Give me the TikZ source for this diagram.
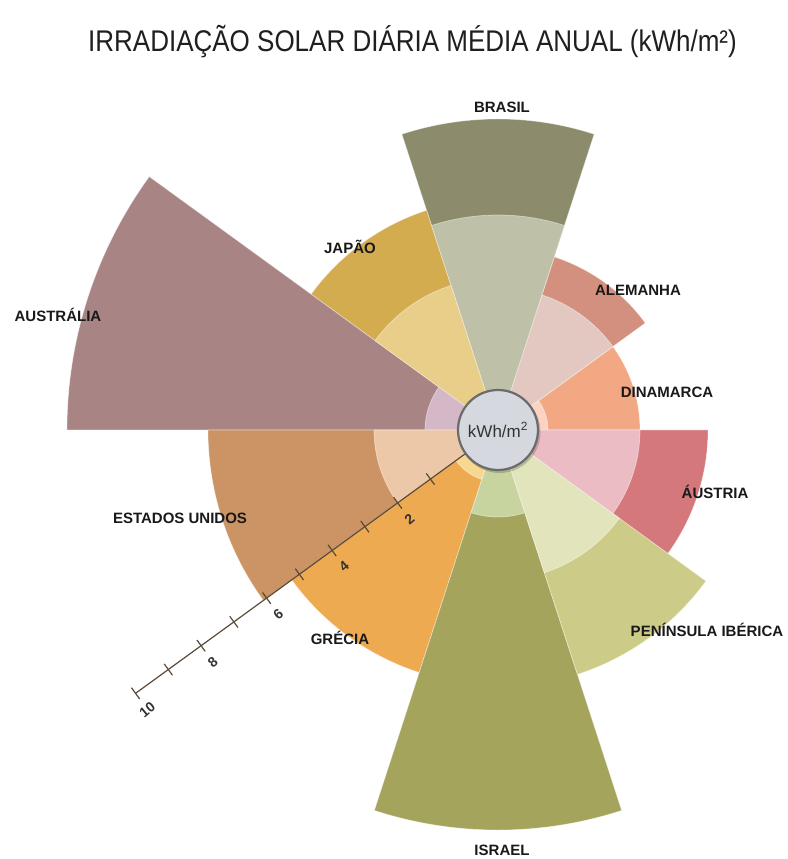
\documentclass[tikz,border=0pt]{standalone}
\usepackage{fontspec}
\setmainfont{Liberation Sans}
\usetikzlibrary{calc}
\definecolor{dinO}{HTML}{F2A882}
\definecolor{dinI}{HTML}{FCD2C2}
\definecolor{aleO}{HTML}{D4907E}
\definecolor{aleI}{HTML}{E2C8C0}
\definecolor{braO}{HTML}{8C8C6C}
\definecolor{braI}{HTML}{BEC0A8}
\definecolor{japO}{HTML}{D4AC50}
\definecolor{japI}{HTML}{E8CE88}
\definecolor{ausO}{HTML}{A88484}
\definecolor{ausI}{HTML}{D4B8C8}
\definecolor{euaO}{HTML}{CC9464}
\definecolor{euaI}{HTML}{EDC8A8}
\definecolor{greO}{HTML}{EEAA50}
\definecolor{greI}{HTML}{F8D890}
\definecolor{isrO}{HTML}{A4A45C}
\definecolor{isrI}{HTML}{C8D4A0}
\definecolor{penO}{HTML}{CCCC88}
\definecolor{penI}{HTML}{E2E4BC}
\definecolor{autO}{HTML}{D4787C}
\definecolor{autI}{HTML}{ECBCC4}
\definecolor{hubfill}{HTML}{D5D8DF}
\definecolor{hubline}{HTML}{6B6B6B}
\definecolor{axiscol}{HTML}{5A4A3A}
\newcommand\rosesector[4]{\fill[#4,draw=white,draw opacity=0.45,line width=0.7pt] (0,0) -- (#1:#3pt) arc[start angle=#1,end angle=#2,radius=#3pt] -- cycle;}
\begin{document}
\begin{tikzpicture}[x=1pt,y=1pt,
  lbl/.style={font=\fontsize{15}{15}\selectfont\bfseries, text=black!90, inner sep=0pt},
  ticklbl/.style={font=\fontsize{14}{14}\selectfont\bfseries, text=black!80, inner sep=0pt, rotate=40},
  axisline/.style={draw=axiscol, line width=1.2pt}]
\useasboundingbox (-498,-429) rectangle (289,430);
% outer rings
\rosesector{0}{36}{142}{dinO}
\rosesector{36}{72}{182}{aleO}
\rosesector{72}{108}{311}{braO}
\rosesector{108}{144}{231}{japO}
\rosesector{144}{180}{431}{ausO}
\rosesector{180}{216}{290}{euaO}
\rosesector{216}{252}{255}{greO}
\rosesector{252}{288}{400}{isrO}
\rosesector{288}{324}{257}{penO}
\rosesector{324}{360}{210}{autO}
% inner rings
\rosesector{0}{36}{50}{dinI}
\rosesector{36}{72}{142}{aleI}
\rosesector{72}{108}{215}{braI}
\rosesector{108}{144}{152}{japI}
\rosesector{144}{180}{73}{ausI}
\rosesector{180}{216}{124}{euaI}
\rosesector{216}{252}{52}{greI}
\rosesector{252}{288}{87}{isrI}
\rosesector{288}{324}{150}{penI}
\rosesector{324}{360}{142}{autI}
% axis
\coordinate (axA) at (216:40pt);
\coordinate (axB) at (216:448pt);
\draw[axisline] (axA) -- (axB);
\foreach \v in {1,...,10}{
  \pgfmathsetmacro\rr{43+40.5*\v}
  \draw[axisline, shift={(216:\rr pt)}] (306:7pt) -- (126:7pt);
}
\foreach \v in {2,4,...,10}{
  \pgfmathsetmacro\rr{43+40.5*\v}
  \node[ticklbl] (t\v) at ($(216:\rr pt)+(306:20pt)$) {\v};
}
% hub
\fill[black, opacity=0.18] (1.5,-2) circle[radius=41pt];
\node[circle, minimum size=80pt, fill=hubfill, draw=hubline, line width=2.2pt, inner sep=0pt,
      font=\fontsize{17}{17}\selectfont, text=black!80] (hub) at (0,0) {kWh/m\textsuperscript{2}};
% labels
\node[lbl] (lbra) at (4,323) {BRASIL};
\node[lbl] (ljap) at (-148,183) {JAPÃO};
\node[lbl] (lale) at (140,140) {ALEMANHA};
\node[lbl] (ldin) at (169,38) {DINAMARCA};
\node[lbl] (laut) at (217,-62) {ÁUSTRIA};
\node[lbl] (lpen) at (209,-200) {PENÍNSULA IBÉRICA};
\node[lbl] (lisr) at (4,-420) {ISRAEL};
\node[lbl] (lgre) at (-158,-208) {GRÉCIA};
\node[lbl] (leua) at (-318,-88) {ESTADOS UNIDOS};
\node[lbl] (laus) at (-440,115) {AUSTRÁLIA};
% title
\node[font=\fontsize{26}{26}\selectfont, text=black!88, inner sep=0pt, yscale=1.15] (title) at (-85.5,388) {IRRADIAÇÃO SOLAR DIÁRIA MÉDIA ANUAL (kWh/m²)};
\end{tikzpicture}
\end{document}
